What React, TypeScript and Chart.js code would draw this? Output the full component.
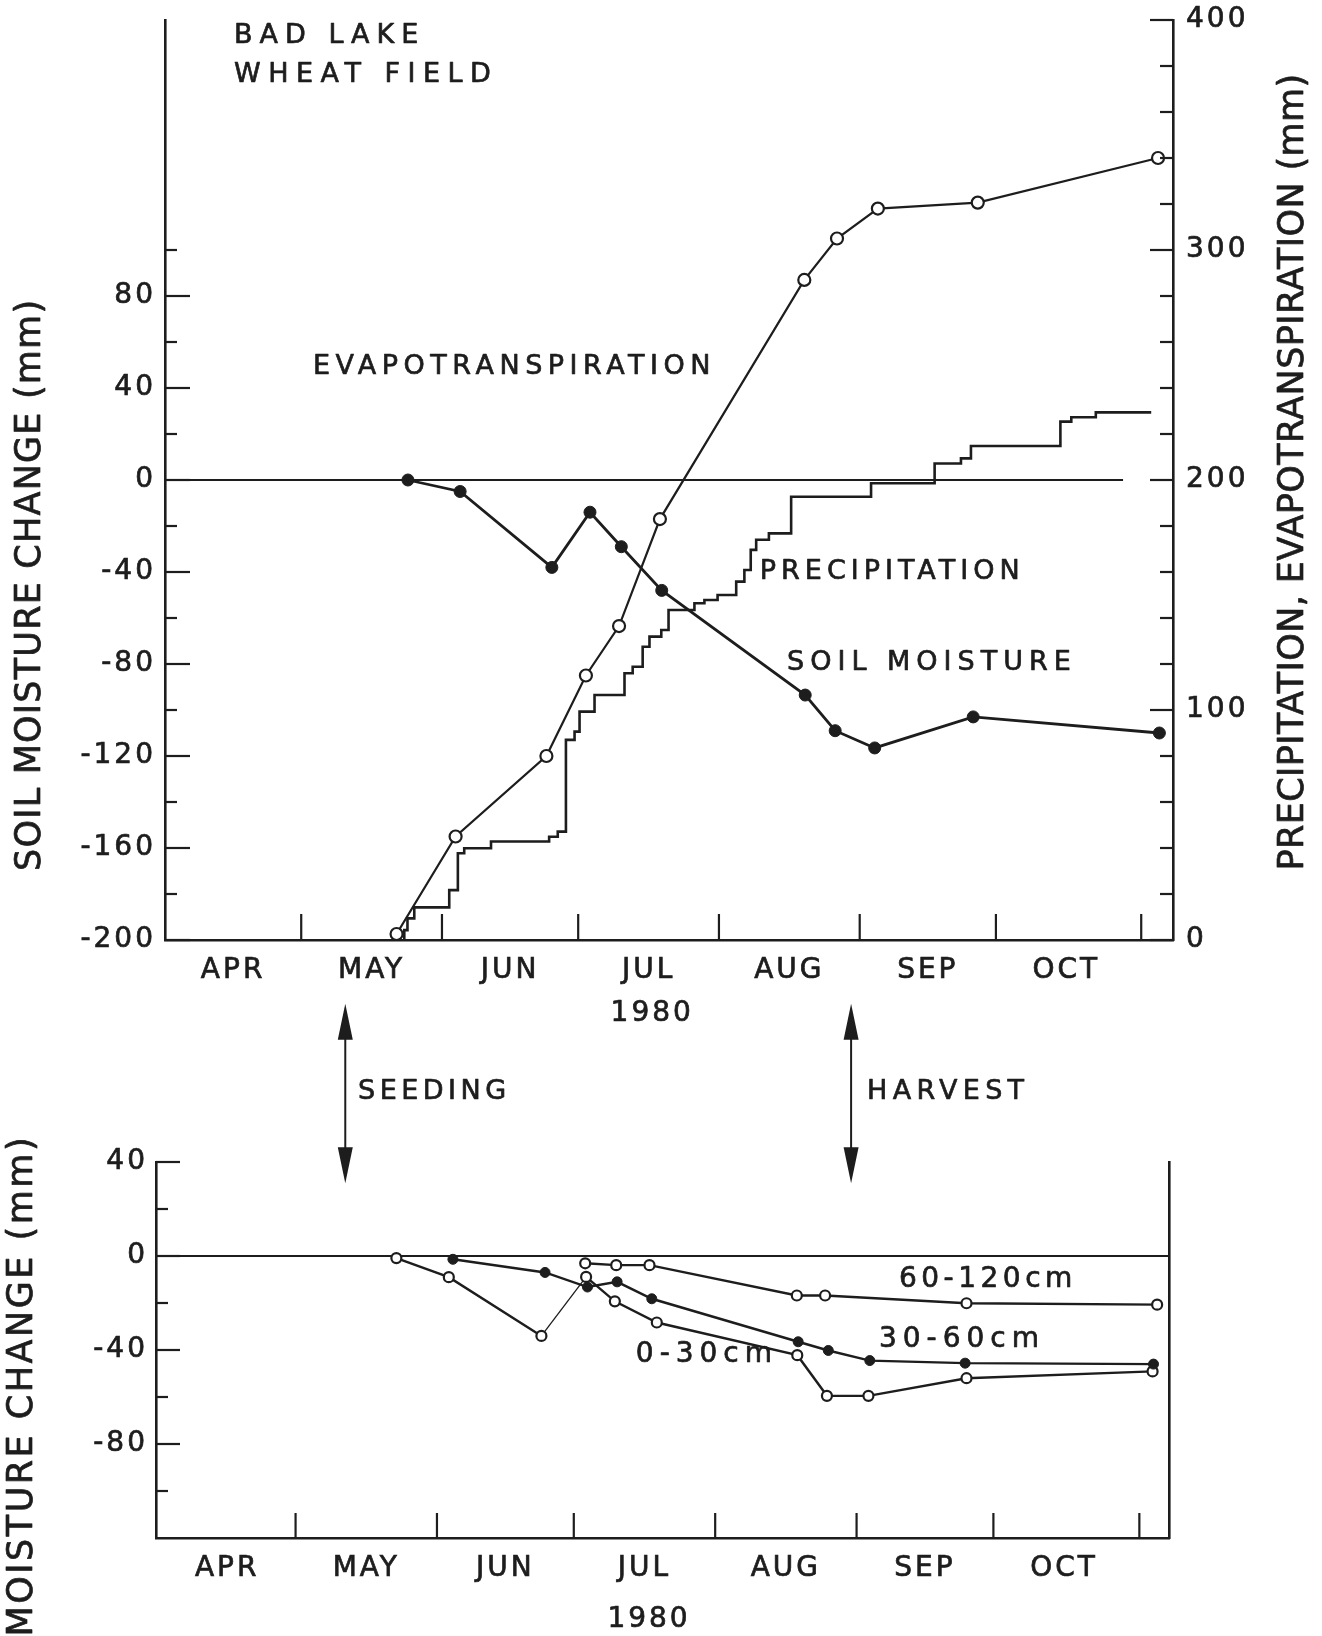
import React, { useEffect, useRef } from 'react';
import { Chart, registerables } from 'chart.js';

Chart.register(...registerables);

const INK = '#1d1d1d';
const FONT = "'DejaVu Sans', 'Liberation Sans', sans-serif";
const TEXT_STROKE = 0.7;

// ---------- shared x axis (days since 1 April 1980) ----------
const monthNames = ['APR', 'MAY', 'JUN', 'JUL', 'AUG', 'SEP', 'OCT'];
const monthLabelDays = [15, 45.5, 76, 106.5, 137.5, 168, 198.5];
const monthBoundaryDays = [30, 61, 91, 122, 153, 183, 215];
const yearLabel = '1980';

// ---------- top panel ----------
const soilDays = [53.5, 65, 85.2, 93.6, 100.5, 109.4, 141, 147.6, 156.3, 178, 219];
const soilValues = [0, -5, -38, -14, -29, -48, -93.5, -109, -116.5, -103, -110];

const etDays = [51, 64, 84, 92.7, 100, 109, 140.8, 148, 157, 179, 218.7];
const etValues = [2.6, 45, 80, 115, 136.5, 183, 287, 305, 318, 320.6, 340];

const precipDays = [
  52.6, 52.7, 53.4, 54.9, 62.6, 64.5, 65.9, 71.8, 84.6, 86.5, 88.3, 90.2, 91.3,
  94.6, 101.2, 103, 105.2, 106.7, 109.3, 110.9, 116.6, 118.8, 121.7, 125.8, 127.6,
  129, 130.2, 133, 137.9, 155.5, 169.5, 175.3, 177.5, 197.2, 199.6, 205, 217.2,
];
const precipValues = [
  0, 4.3, 9.4, 14.2, 21.7, 37.7, 39.9, 42.8, 44.9, 47.1, 87, 90.6, 99.3,
  106.5, 116, 118.8, 127.5, 131.9, 134.8, 143.5, 146.4, 147.8, 150, 155.8, 160.9,
  169.6, 174, 176.8, 192.7, 198.6, 207.2, 209.4, 214.8, 225.4, 227.3, 229.4, 229.4,
];

const zeroLineDaysTop = [0, 211];

const leftTickLabels = [-200, -160, -120, -80, -40, 0, 40, 80];
const leftTickMarks = [-200, -180, -160, -140, -120, -100, -80, -60, -40, -20, 0, 20, 40, 60, 80, 100];
const rightTickLabels = [0, 100, 200, 300, 400];
const rightTickMarks = [0, 20, 40, 60, 80, 100, 120, 140, 160, 180, 200, 220, 240, 260, 280, 300, 320, 340, 360, 380, 400];

// ---------- bottom panel ----------
const deepDays = [93.5, 100.3, 107.6, 139.9, 146.1, 177.1, 218.9];
const deepValues = [-3.1, -3.9, -3.9, -16.8, -16.8, -20.1, -20.7];

const midDays = [64.5, 84.7, 94, 100.5, 108.1, 140.2, 146.8, 155.9, 176.8, 218.1];
const midValues = [-1.4, -7, -13.2, -11, -18.2, -36.5, -40.2, -44.5, -45.6, -46];

const shallowDays = [52.1, 63.6, 83.9, 93.7, 100, 109.2, 140, 146.5, 155.6, 177.1, 217.9];
const shallowValues = [-0.9, -9, -34, -8.9, -19.3, -28.3, -42.2, -59.5, -59.5, -52, -49.1];

const zeroLineDaysBottom = [-0.6, 221.5];

const bottomTickLabels = [40, 0, -40, -80];
const bottomTickMarks = [-100, -80, -60, -40, -20, 0, 20, 40];

const eventNames = ['SEEDING', 'HARVEST'];
const eventDays = [40.9, 151.8];
const eventLabelDays = [43.7, 155.3];
const eventSpan = [31, 107.3];

// ---------- helpers ----------
const pts = (xs: number[], ys: number[]) => xs.map((x, i) => ({ x, y: ys[i] }));

type TickSpec = { scale: string; side: 'left' | 'right' | 'bottom'; values: number[]; major?: number[]; len: number; majorLen?: number };
type TextSpec = {
  text: string; size: number; spacing?: number; align?: CanvasTextAlign; rotate?: number;
  xs?: string; x?: number; px?: number; ys?: string; y?: number; py?: number;
};
type ArrowSpec = { xs: string; ys: string; days: number[]; span: number[] };

function makeDecor(ticks: TickSpec[], texts: TextSpec[], arrows?: ArrowSpec) {
  return {
    id: 'decor',
    beforeDraw(chart: any) {
      chart.ctx.letterSpacing = '3px';
    },
    afterDraw(chart: any) {
      const ctx = chart.ctx;
      const area = chart.chartArea;
      ctx.save();
      ctx.strokeStyle = INK;
      ctx.fillStyle = INK;
      ctx.lineWidth = 2.2;
      ctx.lineCap = 'butt';
      for (const t of ticks) {
        const sc = chart.scales[t.scale];
        for (const v of t.values) {
          const len = t.major && t.major.includes(v) ? (t.majorLen ?? t.len) : t.len;
          ctx.beginPath();
          if (t.side === 'bottom') {
            const x = sc.getPixelForValue(v);
            ctx.moveTo(x, area.bottom);
            ctx.lineTo(x, area.bottom - len);
          } else {
            const y = sc.getPixelForValue(v);
            const x0 = t.side === 'left' ? area.left : area.right;
            ctx.moveTo(x0, y);
            ctx.lineTo(t.side === 'left' ? x0 + len : x0 - len, y);
          }
          ctx.stroke();
        }
      }
      if (arrows) {
        const xs = chart.scales[arrows.xs];
        const ys = chart.scales[arrows.ys];
        const yb = ys.getPixelForValue(arrows.span[0]);
        const yt = ys.getPixelForValue(arrows.span[1]);
        const head = 36;
        const half = 7.5;
        ctx.lineWidth = 2;
        for (const d of arrows.days) {
          const x = xs.getPixelForValue(d);
          ctx.beginPath();
          ctx.moveTo(x, yt + head - 2);
          ctx.lineTo(x, yb - head + 2);
          ctx.stroke();
          ctx.beginPath();
          ctx.moveTo(x, yt);
          ctx.lineTo(x - half, yt + head);
          ctx.lineTo(x + half, yt + head);
          ctx.closePath();
          ctx.fill();
          ctx.beginPath();
          ctx.moveTo(x, yb);
          ctx.lineTo(x - half, yb - head);
          ctx.lineTo(x + half, yb - head);
          ctx.closePath();
          ctx.fill();
        }
      }
      for (const t of texts) {
        const x = t.px !== undefined ? t.px : chart.scales[t.xs || 'x'].getPixelForValue(t.x);
        const y = t.py !== undefined ? t.py : chart.scales[t.ys || 'y'].getPixelForValue(t.y);
        ctx.save();
        ctx.font = `${t.size}px ${FONT}`;
        ctx.letterSpacing = `${t.spacing ?? 0}px`;
        ctx.textAlign = t.align || 'left';
        ctx.textBaseline = 'middle';
        ctx.lineWidth = TEXT_STROKE;
        ctx.lineJoin = 'round';
        ctx.translate(x, y);
        if (t.rotate) ctx.rotate(t.rotate);
        ctx.fillText(t.text, 0, 0);
        ctx.strokeText(t.text, 0, 0);
        ctx.restore();
      }
      ctx.restore();
    },
  };
}

const tickFont = { size: 28, family: FONT };
const zeroPad = (s: any) => {
  s.paddingLeft = 0; s.paddingRight = 0; s.paddingTop = 0; s.paddingBottom = 0;
};

function xScale(min: number, max: number, height: number) {
  return {
    type: 'linear', min, max, bounds: 'data',
    afterBuildTicks: (s: any) => { s.ticks = monthLabelDays.map((v) => ({ value: v })); },
    ticks: {
      callback: (_v: any, i: number) => monthNames[i], font: tickFont, color: INK, padding: 14, maxRotation: 0, autoSkip: false,
      textStrokeColor: INK, textStrokeWidth: TEXT_STROKE,
    },
    grid: { display: false, drawTicks: false },
    border: { display: true, color: INK, width: 2.6 },
    afterFit: (s: any) => { s.height = height; zeroPad(s); },
  };
}

function yScale(position: string, min: number, max: number, labels: number[] | null, width: number, padding: number) {
  return {
    type: 'linear', position, min, max, bounds: 'data',
    afterBuildTicks: (s: any) => { s.ticks = (labels || []).map((v) => ({ value: v })); },
    ticks: {
      display: !!labels, font: tickFont, color: INK, padding, autoSkip: false,
      textStrokeColor: INK, textStrokeWidth: TEXT_STROKE,
    },
    grid: { display: false, drawTicks: false },
    border: { display: true, color: INK, width: 2.6 },
    afterFit: (s: any) => { s.width = width; zeroPad(s); },
  };
}

const openPt = (r: number) => ({ pointRadius: r, pointBackgroundColor: '#ffffff', pointBorderColor: INK, pointBorderWidth: 2.2 });
const fillPt = (r: number) => ({ pointRadius: r, pointBackgroundColor: INK, pointBorderColor: INK, pointBorderWidth: 1 });

function topConfig(): any {
  const texts: TextSpec[] = [
    { text: 'BAD LAKE', x: 15.2, y: 193, size: 27, spacing: 7 },
    { text: 'WHEAT FIELD', x: 15.2, y: 176, size: 27, spacing: 7.5 },
    { text: 'EVAPOTRANSPIRATION', x: 32.6, y: 49, size: 27, spacing: 5.5 },
    { text: 'PRECIPITATION', x: 131, y: -40, size: 27, spacing: 5 },
    { text: 'SOIL MOISTURE', x: 137, y: -79.6, size: 27, spacing: 6 },
    { text: 'SOIL MOISTURE CHANGE (mm)', px: 31, y: -45.6, size: 35, spacing: 1.2, align: 'center', rotate: -Math.PI / 2 },
    { text: 'PRECIPITATION, EVAPOTRANSPIRATION (mm)', px: 1294, ys: 'y2', y: 203.5, size: 35, spacing: 0.4, align: 'center', rotate: -Math.PI / 2 },
    { text: yearLabel, x: 107.3, py: 1014, size: 28, spacing: 3, align: 'center' },
  ];
  const ticks: TickSpec[] = [
    { scale: 'y', side: 'left', values: leftTickMarks, major: leftTickLabels, len: 12, majorLen: 25 },
    { scale: 'y2', side: 'right', values: rightTickMarks, major: rightTickLabels, len: 13, majorLen: 23 },
    { scale: 'x', side: 'bottom', values: monthBoundaryDays, len: 26 },
  ];
  return {
    type: 'line',
    data: {
      datasets: [
        { label: 'Evapotranspiration', data: pts(etDays, etValues), yAxisID: 'y2', borderColor: INK, borderWidth: 2.2, ...openPt(6) },
        { label: 'Soil moisture', data: pts(soilDays, soilValues), yAxisID: 'y', borderColor: INK, borderWidth: 2.8, ...fillPt(6) },
        { label: 'Precipitation', data: pts(precipDays, precipValues), yAxisID: 'y2', borderColor: INK, borderWidth: 2.6, stepped: 'before', pointRadius: 0 },
        { label: 'zero', data: pts(zeroLineDaysTop, [0, 0]), yAxisID: 'y', borderColor: INK, borderWidth: 2.2, pointRadius: 0 },
      ],
    },
    options: {
      animation: false,
      responsive: false,
      devicePixelRatio: 1,
      events: [],
      layout: { padding: { top: 20, left: 0, right: 0, bottom: 0 } },
      plugins: { legend: { display: false }, tooltip: { enabled: false } },
      scales: {
        x: xScale(0, 222, 100),
        y: yScale('left', -200, 200, leftTickLabels, 165, 9),
        y2: yScale('right', 0, 400, rightTickLabels, 149, 13),
      },
    },
    plugins: [makeDecor(ticks, texts)],
  };
}

function bottomConfig(): any {
  const texts: TextSpec[] = [
    { text: '60-120cm', x: 162.3, y: -10.3, size: 28, spacing: 4.5 },
    { text: '30-60cm', x: 157.9, y: -35.8, size: 28, spacing: 6 },
    { text: '0-30cm', x: 104.6, y: -41.8, size: 28, spacing: 6 },
    { text: eventNames[0], x: eventLabelDays[0], y: 69.8, size: 27, spacing: 4.5 },
    { text: eventNames[1], x: eventLabelDays[1], y: 69.8, size: 27, spacing: 5.3 },
    { text: 'MOISTURE CHANGE (mm)', px: 23, y: -55.2, size: 35, spacing: 2.5, align: 'center', rotate: -Math.PI / 2 },
    { text: yearLabel, x: 107.5, py: 630, size: 28, spacing: 3, align: 'center' },
  ];
  const ticks: TickSpec[] = [
    { scale: 'y', side: 'left', values: bottomTickMarks, major: bottomTickLabels, len: 12, majorLen: 24 },
    { scale: 'x', side: 'bottom', values: monthBoundaryDays, len: 25 },
  ];
  return {
    type: 'line',
    data: {
      datasets: [
        { label: '60-120cm', data: pts(deepDays, deepValues), yAxisID: 'y', borderColor: INK, borderWidth: 2.4, ...openPt(5) },
        { label: '30-60cm', data: pts(midDays, midValues), yAxisID: 'y', borderColor: INK, borderWidth: 2.4, ...fillPt(5) },
        {
          label: '0-30cm', data: pts(shallowDays, shallowValues), yAxisID: 'y', borderColor: INK, borderWidth: 2.4, ...openPt(5),
          segment: { borderWidth: (c: any) => (c.p0DataIndex === 2 ? 1.3 : undefined) },
        },
        { label: 'zero', data: pts(zeroLineDaysBottom, [0, 0]), yAxisID: 'y', borderColor: INK, borderWidth: 2.2, pointRadius: 0 },
      ],
    },
    options: {
      animation: false,
      responsive: false,
      devicePixelRatio: 1,
      events: [],
      layout: { padding: { top: 172, left: 0, right: 0, bottom: 0 } },
      plugins: { legend: { display: false }, tooltip: { enabled: false } },
      scales: {
        x: xScale(-0.6, 221.5, 98),
        y: yScale('left', -120, 40, bottomTickLabels, 156, 8),
        y2: yScale('right', -120, 40, null, 153, 0),
      },
    },
    plugins: [makeDecor(ticks, texts, { xs: 'x', ys: 'y', days: eventDays, span: eventSpan })],
  };
}

export default function App() {
  const topRef = useRef<HTMLCanvasElement>(null);
  const botRef = useRef<HTMLCanvasElement>(null);
  useEffect(() => {
    const top = new Chart(topRef.current as HTMLCanvasElement, topConfig());
    const bot = new Chart(botRef.current as HTMLCanvasElement, bottomConfig());
    return () => {
      top.destroy();
      bot.destroy();
    };
  }, []);
  return (
    <div style={{ position: 'absolute', left: 0, top: 0, width: 1322, height: 1636, background: '#ffffff', overflow: 'hidden' }}>
      <canvas ref={topRef} width={1322} height={1040} style={{ position: 'absolute', left: 0, top: 0, width: 1322, height: 1040 }} />
      <canvas ref={botRef} width={1322} height={646} style={{ position: 'absolute', left: 0, top: 990, width: 1322, height: 646 }} />
    </div>
  );
}
